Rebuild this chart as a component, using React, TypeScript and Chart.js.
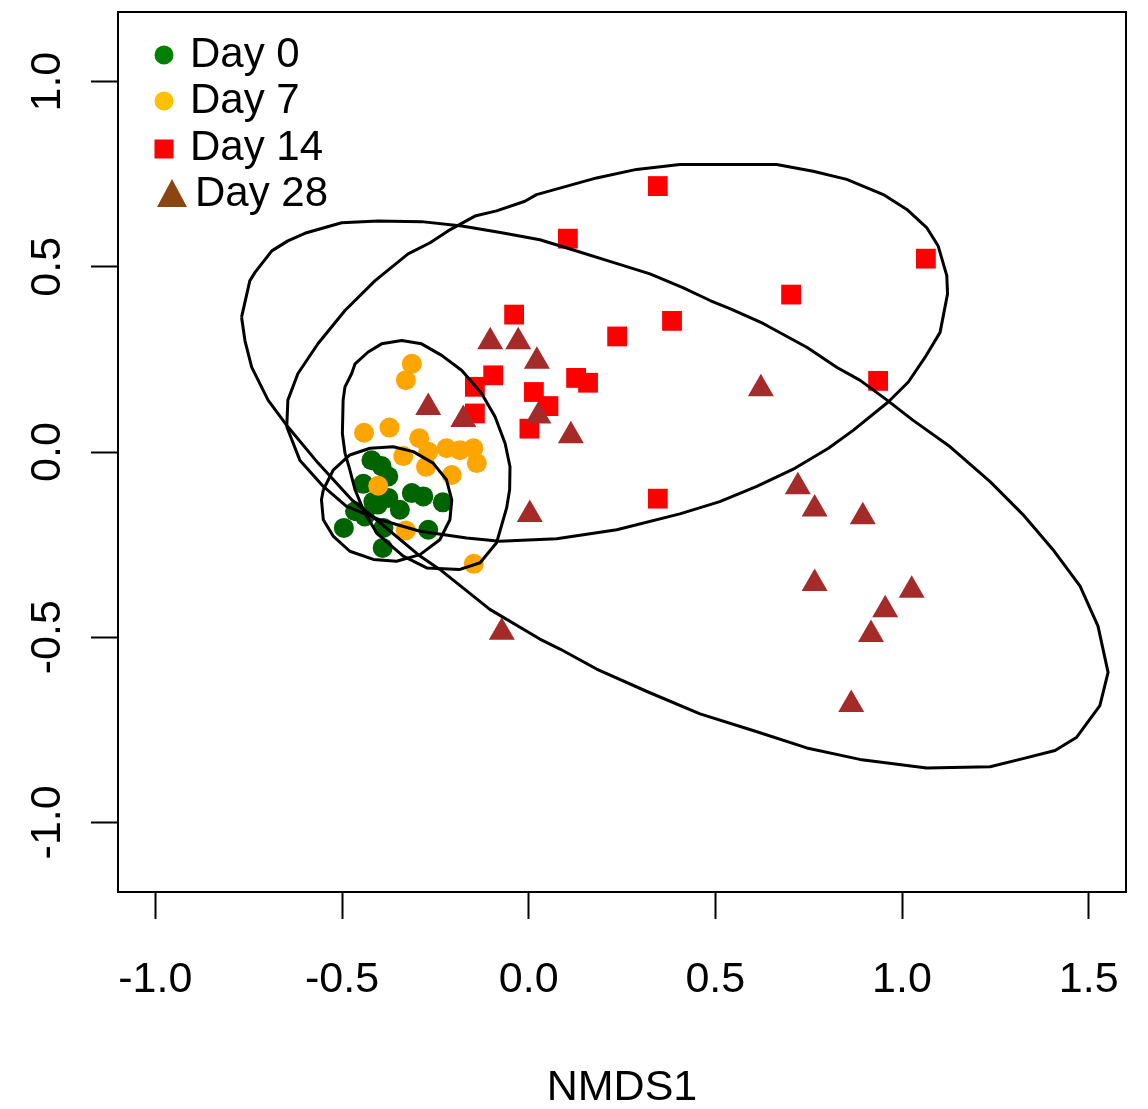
import React, { useEffect, useRef } from 'react';
import { Chart, registerables } from 'chart.js';

Chart.register(...registerables);

// ---- Data (NMDS coordinates) ----
const groupLabels = ['Day 0', 'Day 7', 'Day 14', 'Day 28'];
const pointColors = ['#006400', '#FFA500', '#FF0000', '#A52A2A'];
const legendColors = ['#008000', '#FFC000', '#FF0000', '#8B4513'];

const day0X = [-0.421, -0.394, -0.376, -0.443, -0.313, -0.282, -0.230, -0.376, -0.345, -0.404, -0.465, -0.439, -0.495, -0.389, -0.269, -0.391, -0.416];
const day0Y = [-0.022, -0.038, -0.066, -0.086, -0.111, -0.120, -0.136, -0.124, -0.156, -0.142, -0.160, -0.174, -0.205, -0.205, -0.210, -0.259, -0.134];

const day7X = [-0.313, -0.329, -0.441, -0.373, -0.293, -0.269, -0.336, -0.220, -0.184, -0.148, -0.139, -0.275, -0.206, -0.403, -0.329, -0.147];
const day7Y = [0.238, 0.194, 0.052, 0.066, 0.037, 0.001, -0.011, 0.010, 0.005, 0.010, -0.030, -0.040, -0.062, -0.091, -0.212, -0.302];

const day14X = [0.346, 0.105, 1.064, 0.703, -0.039, 0.384, 0.237, -0.095, -0.144, 0.127, 0.159, 0.014, 0.053, -0.144, 0.002, 0.936, 0.346];
const day14Y = [0.718, 0.576, 0.522, 0.425, 0.371, 0.354, 0.312, 0.207, 0.176, 0.200, 0.187, 0.162, 0.124, 0.104, 0.063, 0.192, -0.126];

const day28X = [-0.103, -0.028, 0.022, -0.269, -0.175, 0.026, 0.113, 0.003, -0.072, 0.622, 0.721, 0.766, 0.895, 0.766, 1.026, 0.955, 0.917, 0.864];
const day28Y = [0.298, 0.298, 0.245, 0.120, 0.088, 0.097, 0.044, -0.169, -0.487, 0.171, -0.094, -0.154, -0.175, -0.355, -0.373, -0.426, -0.493, -0.682];

// Ellipse outlines (traced vertices)
const ell0X = [-0.550, -0.523, -0.479, -0.425, -0.363, -0.309, -0.256, -0.220, -0.206, -0.211, -0.238, -0.291, -0.354, -0.416, -0.479, -0.523, -0.550, -0.555];
const ell0Y = [-0.102, -0.048, -0.008, 0.010, 0.014, 0.001, -0.030, -0.075, -0.129, -0.183, -0.237, -0.277, -0.295, -0.290, -0.268, -0.228, -0.183, -0.129];

const ell7X = [-0.497, -0.492, -0.474, -0.465, -0.430, -0.394, -0.340, -0.287, -0.233, -0.179, -0.126, -0.090, -0.063, -0.050, -0.051, -0.059, -0.086, -0.130, -0.184, -0.273, -0.336, -0.407, -0.441, -0.465, -0.479, -0.492, -0.499];
const ell7Y = [0.140, 0.176, 0.212, 0.238, 0.270, 0.292, 0.301, 0.292, 0.261, 0.220, 0.158, 0.095, 0.023, -0.040, -0.102, -0.151, -0.245, -0.299, -0.317, -0.313, -0.281, -0.219, -0.161, -0.102, -0.048, -0.003, 0.050];

const ell14X = [-0.648, -0.645, -0.618, -0.564, -0.492, -0.412, -0.323, -0.264, -0.216, -0.144, -0.086, -0.010, 0.021, 0.182, 0.289, 0.405, 0.664, 0.762, 0.852, 0.950, 1.013, 1.066, 1.097, 1.120, 1.122, 1.102, 1.062, 1.017, 0.963, 0.870, 0.803, 0.713, 0.611, 0.512, 0.405, 0.236, 0.075, -0.077, -0.166, -0.291, -0.398, -0.488, -0.550, -0.613];
const ell14Y = [0.068, 0.140, 0.212, 0.293, 0.382, 0.462, 0.535, 0.565, 0.597, 0.637, 0.651, 0.677, 0.695, 0.740, 0.763, 0.776, 0.776, 0.758, 0.736, 0.695, 0.655, 0.606, 0.556, 0.476, 0.427, 0.323, 0.256, 0.189, 0.135, 0.059, 0.010, -0.044, -0.093, -0.134, -0.167, -0.210, -0.234, -0.241, -0.232, -0.214, -0.183, -0.147, -0.093, -0.022];

const ell28X = [-0.769, -0.747, -0.733, -0.688, -0.645, -0.595, -0.501, -0.404, -0.287, -0.179, -0.072, 0.030, 0.111, 0.226, 0.325, 0.413, 0.486, 0.539, 0.628, 0.746, 0.826, 0.887, 0.960, 1.029, 1.129, 1.236, 1.324, 1.404, 1.477, 1.525, 1.552, 1.530, 1.468, 1.410, 1.324, 1.236, 1.066, 0.887, 0.745, 0.601, 0.459, 0.320, 0.182, 0.084, 0.030, -0.104, -0.238, -0.291, -0.398, -0.474, -0.564, -0.645, -0.698, -0.742, -0.760];
const ell28Y = [0.364, 0.462, 0.485, 0.543, 0.570, 0.592, 0.619, 0.624, 0.622, 0.610, 0.592, 0.573, 0.548, 0.512, 0.481, 0.444, 0.409, 0.387, 0.347, 0.282, 0.228, 0.194, 0.140, 0.086, 0.014, -0.080, -0.169, -0.263, -0.362, -0.470, -0.595, -0.685, -0.770, -0.806, -0.828, -0.850, -0.853, -0.830, -0.799, -0.752, -0.707, -0.648, -0.586, -0.532, -0.505, -0.425, -0.317, -0.281, -0.191, -0.129, -0.030, 0.068, 0.140, 0.229, 0.301];

const xTicks = [-1.0, -0.5, 0.0, 0.5, 1.0, 1.5];
const yTicks = [-1.0, -0.5, 0.0, 0.5, 1.0];
const xTitle = 'NMDS1';

// ---- helpers ----
const zip = (xs: number[], ys: number[]) => xs.map((x, i) => ({ x, y: ys[i] }));
const closed = (xs: number[], ys: number[]) => {
  const pts = zip(xs, ys);
  return pts.concat([pts[0]]);
};

const FONT = '"Liberation Sans", Arial, Helvetica, sans-serif';

const framePlugin = {
  id: 'frameBox',
  afterDatasetsDraw(chart: any) {
    const { ctx, chartArea } = chart;
    ctx.save();
    ctx.strokeStyle = '#000';
    ctx.lineWidth = 2;
    ctx.strokeRect(chartArea.left, chartArea.top, chartArea.right - chartArea.left, chartArea.bottom - chartArea.top);
    ctx.restore();
  },
};

const legendPlugin = {
  id: 'insetLegend',
  afterDraw(chart: any) {
    const { ctx } = chart;
    const rows = [
      { mx: 164, my: 55, tx: 190, ty: 55, shape: 'circle' },
      { mx: 164, my: 101, tx: 190, ty: 101, shape: 'circle' },
      { mx: 164, my: 149, tx: 190, ty: 148, shape: 'square' },
      { mx: 172, my: 193, tx: 195, ty: 194, shape: 'triangle' },
    ];
    ctx.save();
    rows.forEach((r, i) => {
      ctx.fillStyle = legendColors[i];
      ctx.beginPath();
      if (r.shape === 'circle') {
        ctx.arc(r.mx, r.my, 9.5, 0, Math.PI * 2);
        ctx.fill();
      } else if (r.shape === 'square') {
        ctx.fillRect(r.mx - 9.5, r.my - 9.5, 19, 19);
      } else {
        ctx.moveTo(r.mx, r.my - 14);
        ctx.lineTo(r.mx + 15, r.my + 14);
        ctx.lineTo(r.mx - 15, r.my + 14);
        ctx.closePath();
        ctx.fill();
      }
      ctx.fillStyle = '#000';
      ctx.font = `42px ${FONT}`;
      ctx.textAlign = 'left';
      ctx.textBaseline = 'middle';
      ctx.fillText(groupLabels[i], r.tx, r.ty);
    });
    ctx.restore();
  },
};

export default function App() {
  const canvasRef = useRef<HTMLCanvasElement | null>(null);

  useEffect(() => {
    document.body.style.margin = '0';
    const canvas = canvasRef.current;
    if (!canvas) return;

    const pointSets = [
      { xs: day0X, ys: day0Y, style: 'circle', r: 10 },
      { xs: day7X, ys: day7Y, style: 'circle', r: 10 },
      { xs: day14X, ys: day14Y, style: 'rect', r: 14 },
      { xs: day28X, ys: day28Y, style: 'triangle', r: 15 },
    ];
    const ellipses = [
      closed(ell0X, ell0Y),
      closed(ell7X, ell7Y),
      closed(ell14X, ell14Y),
      closed(ell28X, ell28Y),
    ];

    const datasets: any[] = [];
    pointSets.forEach((p, i) => {
      datasets.push({
        label: groupLabels[i],
        data: zip(p.xs, p.ys),
        pointStyle: p.style,
        pointRadius: p.r,
        pointHoverRadius: p.r,
        backgroundColor: pointColors[i],
        borderColor: pointColors[i],
        pointBorderWidth: 0,
        borderWidth: 0,
        showLine: false,
        order: 10 - i,
      });
    });
    ellipses.forEach((pts, i) => {
      datasets.push({
        label: groupLabels[i] + ' ellipse',
        data: pts,
        showLine: true,
        pointRadius: 0,
        pointHoverRadius: 0,
        borderColor: '#000',
        borderWidth: 3,
        borderJoinStyle: 'round',
        fill: false,
        tension: 0,
        order: 0,
      });
    });

    const chart = new Chart(canvas, {
      type: 'scatter',
      data: { datasets },
      options: {
        animation: false,
        responsive: false,
        maintainAspectRatio: false,
        devicePixelRatio: 1,
        events: [],
        layout: { autoPadding: false, padding: { left: 0, right: 22, top: 12, bottom: 0 } },
        plugins: {
          legend: { display: false },
          tooltip: { enabled: false },
        },
        scales: {
          x: {
            type: 'linear',
            position: 'bottom',
            min: -1.1,
            max: 1.6,
            afterBuildTicks: (scale: any) => {
              scale.ticks = xTicks.map((v) => ({ value: v }));
            },
            afterFit: (scale: any) => {
              scale.height = 217;
              scale.paddingLeft = 0;
              scale.paddingRight = 0;
            },
            grid: {
              drawOnChartArea: false,
              drawTicks: true,
              tickLength: 27,
              tickColor: '#000',
              tickWidth: 2,
            },
            border: { display: false },
            ticks: {
              autoSkip: false,
              maxRotation: 0,
              minRotation: 0,
              padding: 35,
              color: '#000',
              font: { family: FONT, size: 43 },
              callback: (v: any) => Number(v).toFixed(1),
            },
            title: {
              display: true,
              text: xTitle,
              color: '#000',
              font: { family: FONT, size: 43 },
              padding: { top: 0, bottom: -5 },
            },
          },
          y: {
            type: 'linear',
            position: 'left',
            min: -1.188,
            max: 1.188,
            afterBuildTicks: (scale: any) => {
              scale.ticks = yTicks.map((v) => ({ value: v }));
            },
            afterFit: (scale: any) => {
              scale.width = 118;
              scale.paddingTop = 0;
              scale.paddingBottom = 0;
            },
            grid: {
              drawOnChartArea: false,
              drawTicks: true,
              tickLength: 27,
              tickColor: '#000',
              tickWidth: 2,
            },
            border: { display: false },
            ticks: {
              autoSkip: false,
              minRotation: 90,
              maxRotation: 90,
              crossAlign: 'center',
              padding: 6,
              color: '#000',
              font: { family: FONT, size: 43 },
              callback: (v: any) => Number(v).toFixed(1),
            },
          },
        },
      },
      plugins: [framePlugin, legendPlugin],
    } as any);

    return () => {
      chart.destroy();
    };
  }, []);

  return (
    <div style={{ width: 1148, height: 1109, background: '#fff' }}>
      <canvas ref={canvasRef} width={1148} height={1109} style={{ display: 'block' }} />
    </div>
  );
}
